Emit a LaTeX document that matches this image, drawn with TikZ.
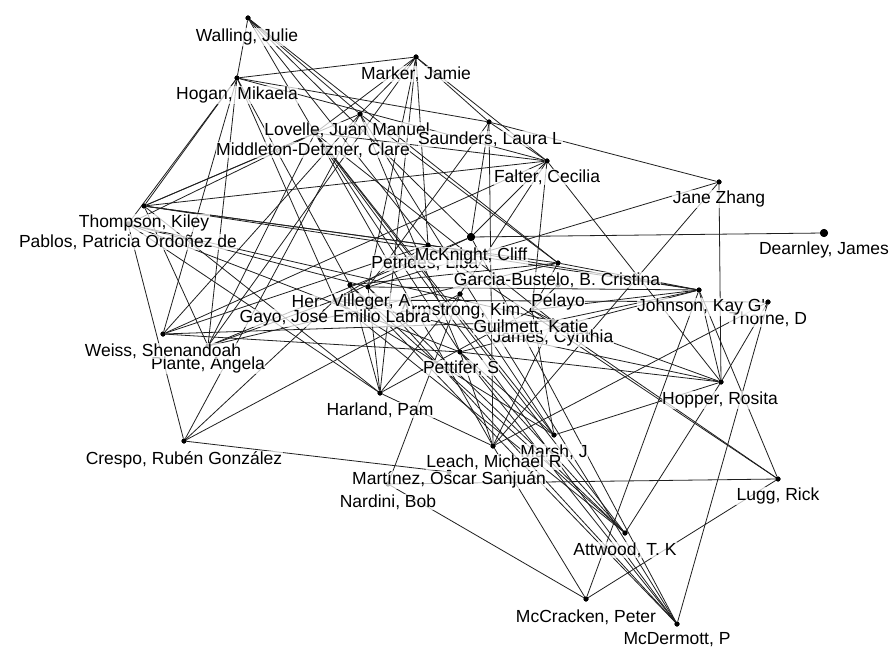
\documentclass[tikz,border=0pt]{standalone}
\usepackage{fontspec}
\setmainfont{Liberation Sans}
\newfontfamily\labfont{Liberation Sans}
\tikzset{
  dotnode/.style={circle, fill=black, inner sep=0pt, minimum size=5pt},
  bigdot/.style={circle, fill=black, inner sep=0pt, minimum size=8pt},
  lab/.style={font=\labfont\fontsize{17.5}{20}\selectfont, fill=white, fill opacity=0.72, text opacity=1, inner sep=0.5pt},
  edgeline/.style={draw=black!88, line width=0.8pt}
}
\begin{document}
\begin{tikzpicture}[x=1pt,y=-1pt]
\useasboundingbox (0,0) rectangle (895,650);
\fill[white] (0,0) rectangle (895,650);
% dots
\node[dotnode] (W) at (248,18) {};
\node[dotnode] (MJ) at (416,57) {};
\node[dotnode] (HM) at (237,78) {};
\node[dotnode] (LJ) at (360,114) {};
\node[dotnode] (MD) at (315,133) {};
\node[dotnode] (SL) at (489,122) {};
\node[dotnode] (FC) at (547,161) {};
\node[dotnode] (JZ) at (719,182) {};
\node[bigdot] (DJ) at (824,233) {};
\node[dotnode] (TK) at (144,206) {};
\node[dotnode] (PP) at (128,224) {};
\node[bigdot] (MC) at (471,237) {};
\node[dotnode] (PL) at (428,245) {};
\node[dotnode] (GB) at (558,263) {};
\node[dotnode] (PE) at (558,285) {};
\node[dotnode] (AK) at (460,294) {};
\node[dotnode] (HE) at (350,285) {};
\node[dotnode] (VA) at (368,287) {};
\node[dotnode] (GJ) at (335,300) {};
\node[dotnode] (GK) at (532,310) {};
\node[dotnode] (JC) at (553,321) {};
\node[dotnode] (JK) at (699,290) {};
\node[dotnode] (TD) at (768,302) {};
\node[dotnode] (WS) at (163,334) {};
\node[dotnode] (PA) at (208,346) {};
\node[dotnode] (PS) at (460,352) {};
\node[dotnode] (HR) at (721,382) {};
\node[dotnode] (HP) at (380,393) {};
\node[dotnode] (CR) at (184,441) {};
\node[dotnode] (LM) at (493,446) {};
\node[dotnode] (MS) at (554,435) {};
\node[dotnode] (MO) at (449,472) {};
\node[dotnode] (NB) at (388,484) {};
\node[dotnode] (LR) at (778,479) {};
\node[dotnode] (AT) at (625,533) {};
\node[dotnode] (MP) at (586,599) {};
\node[dotnode] (MM) at (677,624) {};
% edges
\foreach \a/\b in {W/HM, W/LJ, W/MD, W/PL, W/MC, W/GB,
  MJ/HM, MJ/LJ, MJ/MD, MJ/SL, MJ/FC, MJ/VA, MJ/PL, MJ/PA, MJ/HP,
  HM/TK, HM/PP, HM/WS, HM/PA, HM/FC, HM/HE, HM/GJ, HM/SL,
  LJ/CR, LJ/MM, LJ/TK, LJ/WS, LJ/GB, LJ/PS,
  MD/TK, MD/PP, MD/PA, MD/MM, MD/AT, MD/MS, MD/LM, MD/FC, MD/PS, MD/JC,
  SL/JZ, SL/FC, SL/LM, SL/MC, SL/VA,
  FC/TK, FC/AK, FC/GK, FC/HR, FC/MC, FC/WS,
  JZ/HR, JZ/LM, JZ/VA, DJ/MC,
  TK/PA, TK/GB, TK/PL, TK/HP, TK/JK,
  PP/CR, PP/HP, PP/JC, PP/PS, PP/VA,
  MC/GJ, MC/MM, MC/PA,
  PL/WS, PL/JK, PL/LR, PL/GJ,
  GB/PA, GB/HE, GB/GK, GB/JK,
  AK/CR, AK/MS, AK/HP,
  HE/MM, HE/HP, HE/AT,
  VA/JK, VA/MM, VA/HP, VA/AT,
  GJ/CR, GJ/AT, GJ/HR, GJ/PA, GJ/MS,
  GK/LR, GK/HP, GK/MS, GK/JC, GK/PE, GK/JK,
  JC/HR, JC/WS, JC/LM, JC/JK,
  JK/MP, JK/LR, JK/HR, JK/PS,
  TD/HR, TD/LM, TD/MM, TD/GJ,
  PS/HR, PS/MM, PS/AT, PS/MS, PS/LM, PS/WS,
  HR/MS, HR/AT, CR/MO, LM/MP, LM/HP,
  NB/LR, NB/MP, NB/AK, LR/MP}
  \draw[edgeline] (\a) -- (\b);
% redraw dots on top
\foreach \n in {W,MJ,HM,LJ,MD,SL,FC,JZ,TK,PP,PL,GB,PE,AK,HE,VA,GJ,GK,JC,JK,TD,WS,PA,PS,HR,HP,CR,LM,MS,MO,NB,LR,AT,MP,MM}
  \fill[black] (\n) circle (2.5pt);
\foreach \n in {DJ,MC}
  \fill[black] (\n) circle (4pt);
% labels (faded ones first)
\node[lab] (AK-l) at (460,311) {Armstrong, Kim};
\node[lab] (JC-l) at (553,338) {James, Cynthia};
\node[lab] (TD-l) at (768,319) {Thorne, D};
\node[lab] (PE-l) at (558,302) {Pelayo};
\node[lab, anchor=west] (HE-l) at (291,302) {Her};
\node[lab] (LJ-l) at (347,130) {Lovelle, Juan Manuel};
\node[lab] (PL-l) at (425,263) {Petrides, Liba};
\node[lab] (PA-l) at (208,365) {Plante, Angela};
\node[lab] (PP-l) at (128,242) {Pablos, Patricia Ordoñez de};
\node[lab] (TK-l) at (144,223) {Thompson, Kiley};
\node[lab] (W-l) at (247,37) {Walling, Julie};
\node[lab] (MJ-l) at (416,74) {Marker, Jamie};
\node[lab] (HM-l) at (237,95) {Hogan, Mikaela};
\node[lab] (SL-l) at (490,139) {Saunders, Laura L};
\node[lab] (MD-l) at (313,150) {Middleton-Detzner, Clare};
\node[lab] (FC-l) at (547,177) {Falter, Cecilia};
\node[lab] (JZ-l) at (719,199) {Jane Zhang};
\node[lab] (DJ-l) at (824,250) {Dearnley, James};
\node[lab] (MC-l) at (471,256) {McKnight, Cliff};
\node[lab] (GB-l) at (557,280) {Garcia-Bustelo, B. Cristina};
\node[lab] (VA-l) at (371,302) {Villeger, A};
\node[lab] (GJ-l) at (335,318) {Gayo, José Emilio Labra};
\node[lab] (GK-l) at (531,327) {Guilmett, Katie};
\node[lab] (JK-l) at (701,307) {Johnson, Kay G'};
\node[lab] (WS-l) at (163,351) {Weiss, Shenandoah};
\node[lab] (PS-l) at (461,368) {Pettifer, S};
\node[lab] (HR-l) at (720,400) {Hopper, Rosita};
\node[lab] (HP-l) at (380,410) {Harland, Pam};
\node[lab] (CR-l) at (184,460) {Crespo, Rubén González};
\node[lab] (MS-l) at (554,452) {Marsh, J};
\node[lab] (LM-l) at (494,462) {Leach, Michael R};
\node[lab] (MO-l) at (449,480) {Martínez, Oscar Sanjuán};
\node[lab] (NB-l) at (388,502) {Nardini, Bob};
\node[lab] (LR-l) at (778,496) {Lugg, Rick};
\node[lab] (AT-l) at (625,550) {Attwood, T. K};
\node[lab] (MP-l) at (586,617) {McCracken, Peter};
\node[lab] (MM-l) at (677,640) {McDermott, P};
\end{tikzpicture}
\end{document}
